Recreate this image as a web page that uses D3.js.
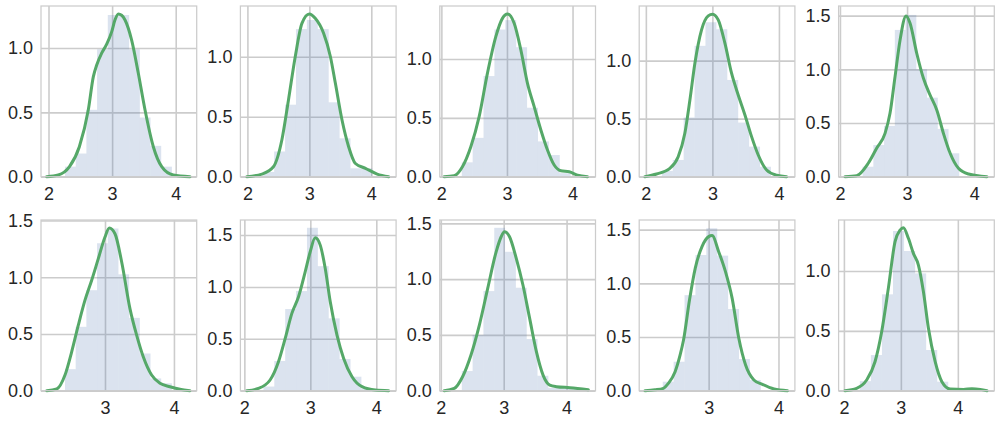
<!DOCTYPE html>
<html>
<head>
<meta charset="utf-8">
<script src="https://cdn.jsdelivr.net/npm/d3@7"></script>
<style>
  html, body { margin: 0; padding: 0; background: #ffffff; }
  svg { display: block; }
  text { font-family: "Liberation Sans", Arial, sans-serif; }
</style>
</head>
<body>
<svg id="chart" width="1000" height="424"></svg>
<script>
// ---------------- data ----------------
const xTickValues = [2, 3, 4];
const yTickValues = [0, 0.5, 1.0, 1.5];

const xLimits = [
  [1.882, 4.33], [1.887, 4.40], [1.976, 4.35], [1.90, 4.24], [1.98, 4.30],
  [2.072, 4.33], [1.94, 4.30], [1.984, 4.46], [2.006, 4.235], [1.907, 4.64]
];
const yLimitTop = [1.327, 1.4225, 1.45, 1.47, 1.59, 1.505, 1.645, 1.53, 1.59, 1.426];

const binStart = [2.26, 2.256, 2.311, 2.24, 2.338, 2.42, 2.289, 2.334, 2.343, 2.28];
const binWidth = [0.168, 0.176, 0.166, 0.164, 0.16, 0.155, 0.165, 0.172, 0.156, 0.194];
const binHeights = [
  [0.078, 0.18, 0.52, 0.99, 1.257, 1.257, 0.99, 0.46, 0.24, 0.078],
  [0.04, 0.21, 0.6, 1.23, 1.306, 1.23, 0.62, 0.32, 0.07, 0.07],
  [0.122, 0.33, 0.855, 1.25, 1.33, 1.10, 0.586, 0.30, 0.184, 0.03],
  [0.05, 0.144, 0.51, 1.127, 1.33, 1.27, 0.833, 0.466, 0.259, 0.086],
  [0.093, 0.295, 0.473, 1.367, 1.507, 1.0, 0.736, 0.445, 0.218],
  [0.19, 0.563, 0.886, 1.30, 1.43, 1.026, 0.642, 0.328, 0.108, 0.065],
  [0.04, 0.286, 0.787, 0.96, 1.57, 1.20, 0.697, 0.305, 0.135, 0.02],
  [0.176, 0.5, 0.893, 1.46, 1.245, 0.923, 0.463, 0.134, 0.025, 0.025, 0.025],
  [0.084, 0.27, 0.89, 1.264, 1.513, 1.258, 0.761, 0.295, 0.099],
  [0.08, 0.298, 0.805, 1.334, 1.167, 0.98, 0.34, 0.075]
];

const kdeX = [
  [1.97,2.154,2.33,2.485,2.626,2.705,2.758,2.836,2.915,2.994,3.046,3.098,3.15,3.203,3.308,3.412,3.517,3.648,3.78,3.962,4.225],
  [1.99,2.233,2.42,2.556,2.663,2.772,2.88,3.0,3.095,3.23,3.34,3.42,3.527,3.634,3.743,3.905,4.094,4.28],
  [2.041,2.194,2.321,2.449,2.576,2.702,2.83,2.931,3.008,3.11,3.212,3.313,3.415,3.517,3.618,3.72,3.822,3.95,4.076,4.229],
  [1.985,2.161,2.361,2.486,2.586,2.662,2.737,2.837,2.937,3.003,3.088,3.188,3.288,3.388,3.489,3.589,3.689,3.815,3.965,4.116],
  [2.075,2.249,2.422,2.547,2.672,2.746,2.821,2.896,2.985,3.045,3.144,3.244,3.343,3.443,3.542,3.642,3.766,3.915,4.19],
  [2.155,2.30,2.42,2.517,2.613,2.71,2.807,2.903,3.0,3.063,3.145,3.242,3.362,3.459,3.555,3.676,3.797,3.942,4.087,4.232],
  [2.036,2.213,2.39,2.517,2.619,2.72,2.821,2.922,2.998,3.074,3.15,3.226,3.302,3.404,3.505,3.632,3.784,3.986,4.188],
  [2.053,2.213,2.346,2.48,2.613,2.746,2.88,2.96,3.013,3.093,3.2,3.306,3.413,3.52,3.626,3.733,3.84,4.053,4.346],
  [2.088,2.232,2.352,2.424,2.52,2.592,2.64,2.726,2.808,2.905,3.0,3.049,3.144,3.241,3.337,3.432,3.529,3.648,3.769,3.937,4.13],
  [2.018,2.223,2.399,2.546,2.663,2.78,2.898,2.986,3.044,3.132,3.22,3.308,3.396,3.484,3.602,3.72,3.866,4.1,4.248,4.394,4.512]
];
const kdeY = [
  [0,0.013,0.078,0.233,0.52,0.778,0.869,0.96,1.03,1.128,1.22,1.265,1.255,1.218,1.06,0.804,0.52,0.233,0.078,0.013,0],
  [0,0.022,0.083,0.306,0.64,1.0,1.278,1.356,1.32,1.195,1.0,0.778,0.472,0.25,0.11,0.07,0.022,0],
  [0,0.008,0.085,0.255,0.51,0.878,1.19,1.345,1.382,1.303,1.076,0.793,0.595,0.397,0.227,0.099,0.05,0.042,0.013,0],
  [0,0.023,0.072,0.172,0.374,0.661,0.977,1.265,1.385,1.40,1.351,1.15,0.891,0.704,0.532,0.345,0.187,0.058,0.013,0],
  [0,0.009,0.125,0.265,0.404,0.59,0.932,1.274,1.498,1.43,1.15,0.917,0.761,0.622,0.404,0.218,0.078,0.025,0],
  [0,0.015,0.138,0.343,0.578,0.798,0.974,1.164,1.355,1.434,1.384,1.135,0.724,0.49,0.299,0.138,0.065,0.035,0.012,0],
  [0,0.022,0.103,0.279,0.504,0.745,0.906,1.146,1.339,1.474,1.403,1.178,0.857,0.536,0.311,0.135,0.039,0.006,0],
  [0,0.02,0.125,0.32,0.588,0.917,1.245,1.38,1.425,1.38,1.186,0.947,0.648,0.35,0.14,0.05,0.036,0.027,0.009],
  [0,0.008,0.022,0.069,0.177,0.333,0.47,0.845,1.14,1.342,1.435,1.445,1.295,1.109,0.86,0.488,0.239,0.1,0.059,0.016,0],
  [0,0.02,0.089,0.242,0.493,0.855,1.245,1.342,1.362,1.273,1.147,1.05,0.827,0.521,0.242,0.075,0.014,0.011,0.017,0.011,0]
];

// ---------------- layout ----------------
const nCols = 5;
const axLeft0 = 41, axStepX = 199.4, axW = 155.7;
const axTops = [6, 220], axH = 170.7;
const gridColor = "#cccccc";
const textColor = "#262626";
const barColor = "#4C72B0";
const kdeColor = "#55A868";

const svg = d3.select("#chart");
svg.append("rect").attr("width", 1000).attr("height", 424).attr("fill", "#ffffff");

for (let i = 0; i < 10; i++) {
  const col = i % nCols, row = Math.floor(i / nCols);
  const g = svg.append("g")
    .attr("transform", `translate(${axLeft0 + col * axStepX},${axTops[row]})`);

  const x = d3.scaleLinear().domain(xLimits[i]).range([0, axW]);
  const y = d3.scaleLinear().domain([0, yLimitTop[i]]).range([axH, 0]);

  const xt = xTickValues.filter(v => v >= xLimits[i][0] && v <= xLimits[i][1]);
  const yt = yTickValues.filter(v => v <= yLimitTop[i] + 1e-9);

  // grid + tick labels
  const gx = g.append("g").attr("transform", `translate(0,${axH})`)
    .call(d3.axisBottom(x).tickValues(xt).tickSize(-axH).tickPadding(11).tickFormat(d3.format("d")));
  const gy = g.append("g")
    .call(d3.axisLeft(y).tickValues(yt).tickSize(-axW).tickPadding(8).tickFormat(d3.format(".1f")));
  [gx, gy].forEach(a => {
    a.select(".domain").remove();
    a.selectAll(".tick line").attr("stroke", gridColor).attr("stroke-width", 1.6);
    a.selectAll(".tick text").attr("fill", textColor).style("font-size", "18px")
      .style("font-family", '"Liberation Sans", Arial, sans-serif');
  });

  // histogram bars
  const bins = binHeights[i].map((h, k) => ({
    x0: binStart[i] + k * binWidth[i],
    x1: binStart[i] + (k + 1) * binWidth[i],
    h: h
  }));
  g.append("g").selectAll("rect").data(bins).join("rect")
    .attr("x", d => x(d.x0))
    .attr("width", d => x(d.x1) - x(d.x0))
    .attr("y", d => y(d.h))
    .attr("height", d => y(0) - y(d.h))
    .attr("fill", barColor)
    .attr("fill-opacity", 0.2);

  // kde line
  const pts = kdeX[i].map((v, k) => [v, kdeY[i][k]]);
  g.append("path")
    .datum(pts)
    .attr("fill", "none")
    .attr("stroke", kdeColor)
    .attr("stroke-width", 3)
    .attr("stroke-linejoin", "round")
    .attr("stroke-linecap", "round")
    .attr("d", d3.line().x(d => x(d[0])).y(d => y(d[1])).curve(d3.curveMonotoneX));

  // spines
  g.append("rect")
    .attr("x", 0).attr("y", 0).attr("width", axW).attr("height", axH)
    .attr("fill", "none").attr("stroke", gridColor).attr("stroke-width", 1.25);
}
</script>
</body>
</html>
